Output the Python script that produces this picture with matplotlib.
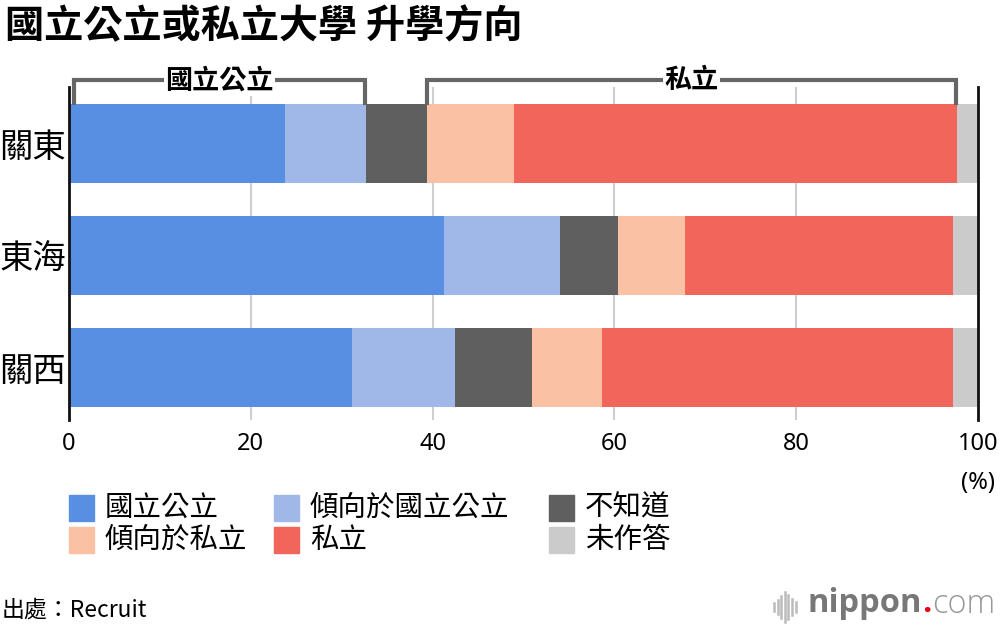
import matplotlib
matplotlib.use("Agg")
import matplotlib.pyplot as plt
from matplotlib.patches import Rectangle
from matplotlib.lines import Line2D

plt.rcParams["font.family"] = ["Noto Sans CJK TC", "DejaVu Sans"]

regions = ["關東", "東海", "關西"]
series_names = ["國立公立", "傾向於國立公立", "不知道", "傾向於私立", "私立", "未作答"]
# share of answers per region, in %
national = [23.8, 41.2, 31.1]
lean_national = [8.9, 12.8, 11.4]
dont_know = [6.7, 6.4, 8.4]
lean_private = [9.6, 7.4, 7.7]
private = [48.7, 29.5, 38.6]
no_answer = [2.3, 2.7, 2.8]
values = [national, lean_national, dont_know, lean_private, private, no_answer]
colors = ["#588fe3", "#a0b8e7", "#5f5f5f", "#fbc1a5", "#f1655a", "#cbcbcb"]

x_ticks = [0, 20, 40, 60, 80, 100]
bracket_groups = [("國立公立", 0.5, 32.6), ("私立", 39.4, 97.6)]

W, H = 1000, 630
fig = plt.figure(figsize=(W / 100, H / 100), dpi=100)
ax = fig.add_axes([69 / W, 1 - 420 / H, (978 - 69) / W, 333 / H])

for x in x_ticks[1:-1]:
    ax.axvline(x, color="#cfcfcf", lw=1.5, zorder=0)

left = [0.0] * len(regions)
for vals, color in zip(values, colors):
    ax.barh(range(len(regions)), vals, left=left, height=0.70, color=color, zorder=2)
    left = [l + v for l, v in zip(left, vals)]

ax.set_xlim(0, 100)
ax.set_ylim(2.47, -0.504)
ax.set_yticks(range(len(regions)))
ax.set_yticklabels(regions, fontsize=24)
ax.set_xticks(x_ticks)
ax.set_xticklabels([str(t) for t in x_ticks], fontsize=17, family=["Noto Sans", "DejaVu Sans"])
ax.tick_params(length=0, pad=9)
ax.tick_params(axis="y", pad=2)
for side in ["top", "bottom"]:
    ax.spines[side].set_visible(False)
for side in ["left", "right"]:
    ax.spines[side].set_linewidth(2)
    ax.spines[side].set_color("#111111")
ax.text(100, 3.03, "(%)", ha="center", va="center", fontsize=17, family=["Noto Sans", "DejaVu Sans"])

# brackets above the bars
y_top = -0.565
y_leg = -0.36
for label, x0, x1 in bracket_groups:
    ax.plot([x0, x0, x1, x1], [y_leg, y_top, y_top, y_leg], color="#666666", lw=3,
            clip_on=False, solid_joinstyle="miter", zorder=3)
    ax.text((x0 + x1) / 2, y_top, label, ha="center", va="center", fontsize=19.5,
            fontweight="bold", clip_on=False, zorder=4,
            bbox=dict(facecolor="white", edgecolor="none", pad=1))

fig.text(5 / W, 1 - 27 / H, "國立公立或私立大學 升學方向", fontsize=28.2, fontweight="bold",
         ha="left", va="center")

# legend
legend_pos = [(69, 508), (274, 508), (549, 508), (69, 540), (274, 540), (549, 540)]
for (px, py), name, color in zip(legend_pos, series_names, colors):
    fig.add_artist(Rectangle((px / W, 1 - (py + 13) / H), 25 / W, 26 / H,
                             transform=fig.transFigure, color=color))
    fig.text((px + 36) / W, 1 - py / H, name, fontsize=20.5, ha="left", va="center")

fig.text(2 / W, 1 - 610 / H, "出處：Recruit", fontsize=16.5, ha="left", va="center")

# nippon.com logo
bar_h = [8, 14, 22, 30, 24, 16, 10]
for i, h in enumerate(bar_h):
    xx = (774 + i * 3.6) / W
    fig.add_artist(Line2D([xx, xx], [1 - (607 + h / 2) / H, 1 - (607 - h / 2) / H],
                          transform=fig.transFigure, color="#bbbbbb", lw=1.8))
renderer = fig.canvas.get_renderer()
logo_x = 808
for piece, color, weight in [("nippon", "#777777", "bold"), (".", "#e60012", "bold"),
                             ("com", "#999999", "light")]:
    t = fig.text(logo_x / W, 1 - 604 / H, piece, fontsize=23.5, color=color, fontweight=weight,
                 ha="left", va="center", family=["Open Sans", "DejaVu Sans"])
    bb = t.get_window_extent(renderer)
    logo_x += bb.width

fig.savefig("out.png", dpi=100)
